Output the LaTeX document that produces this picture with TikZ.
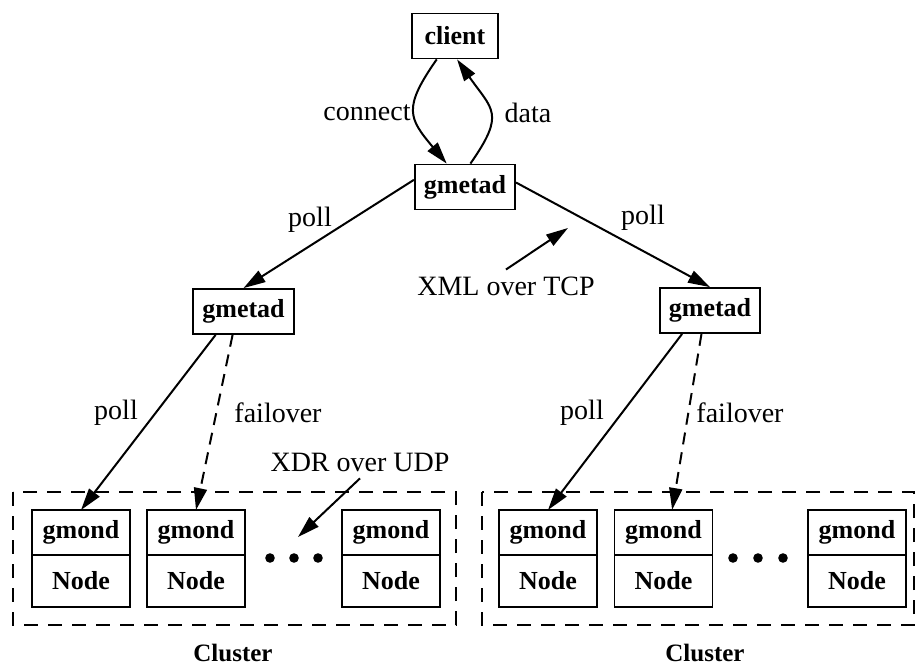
\documentclass[tikz,border=0pt]{standalone}
\usepackage{fontspec}
\setmainfont{Liberation Serif}
\usetikzlibrary{positioning,arrows.meta}

\begin{document}
\begin{tikzpicture}[x=0.5pt,y=-0.5pt,
    box/.style={draw,line width=0.9pt,font=\fontsize{13}{15}\selectfont\bfseries,
      minimum width=43pt,minimum height=22.5pt,inner xsep=4.5pt,inner ysep=0pt},
    gtop/.style={draw,line width=0.9pt,font=\fontsize{13}{15}\selectfont\bfseries,
      minimum width=49pt,minimum height=22.5pt,inner sep=0pt,outer sep=0pt},
    gbot/.style={gtop,minimum height=26pt},
    lbl/.style={font=\fontsize{14}{16}\selectfont},
    arr/.style={line width=1pt,-{Triangle[length=11pt,width=6.5pt]}},
    fail/.style={arr,dash pattern=on 6pt off 4pt},
    cluster/.style={line width=0.9pt,dash pattern=on 7pt off 5pt}]
      \useasboundingbox (0,0) rectangle (916,668);
      % top of the tree
      \node[box] (client) at (455,36) {client};
      \node[box] (g0) at (465,187) {gmetad};
      \node[box] (g1) at (243.5,311.5) {gmetad};
      \node[box] (g2) at (710,310.5) {gmetad};
      \draw[arr] (client.232) to[out=235,in=130,looseness=1.45] (g0.128);
      \draw[arr] (g0.77) to[out=55,in=-55,looseness=1.5] (client.275);
      \node[lbl] (conn) at (367,113) {connect};
      \node[lbl] (data) at (528,113) {data};
      \draw[arr] (g0.172) -- (g1.north);
      \draw[arr] (g0.5) -- (g2.north);
      \node[lbl] (poll0) at (310,220) {poll};
      \node[lbl] (poll1) at (643,218) {poll};
      \node[lbl] (xml) at (506,286) {XML over TCP};
      \coordinate (xmltip) at (568,228);
      \draw[arr] (xml.north) -- (xmltip);
      % clusters
      \draw[cluster] (13,492) rectangle (456,625);
      \draw[cluster] (482,492) rectangle (914,625);
      \foreach \x/\n in {81/a1,196/a2,391/a3,548/b1,663.5/b2,857/b3} {
        \node[gtop] (\n) at (\x,532.5) {gmond};
        \node[gbot,below=0pt of \n] (\n n) {Node};
      }
      \foreach \x in {270,294,318,733,758,783}
        \fill (\x,558) circle (2.4pt);
      \node[font=\fontsize{12.5}{14}\selectfont\bfseries] (cl1) at (233,653) {Cluster};
      \node[font=\fontsize{12.5}{14}\selectfont\bfseries] (cl2) at (705,653) {Cluster};
      % gmetad to gmond
      \draw[arr] (g1.220) -- (a1.north);
      \draw[fail] (g1.245) -- (a2.north);
      \draw[arr] (g2.220) -- (b1.north);
      \draw[fail] (g2.250) -- (b2.69);
      \node[lbl] (poll2) at (116,413) {poll};
      \node[lbl] (fo1) at (278,413) {failover};
      \node[lbl] (poll3) at (582,413) {poll};
      \node[lbl] (fo2) at (740,413) {failover};
      \node[lbl] (xdr) at (360,462) {XDR over UDP};
      \coordinate (xdrtip) at (298,537);
      \draw[arr] (xdr.south) -- (xdrtip);
    \end{tikzpicture}
\end{document}
